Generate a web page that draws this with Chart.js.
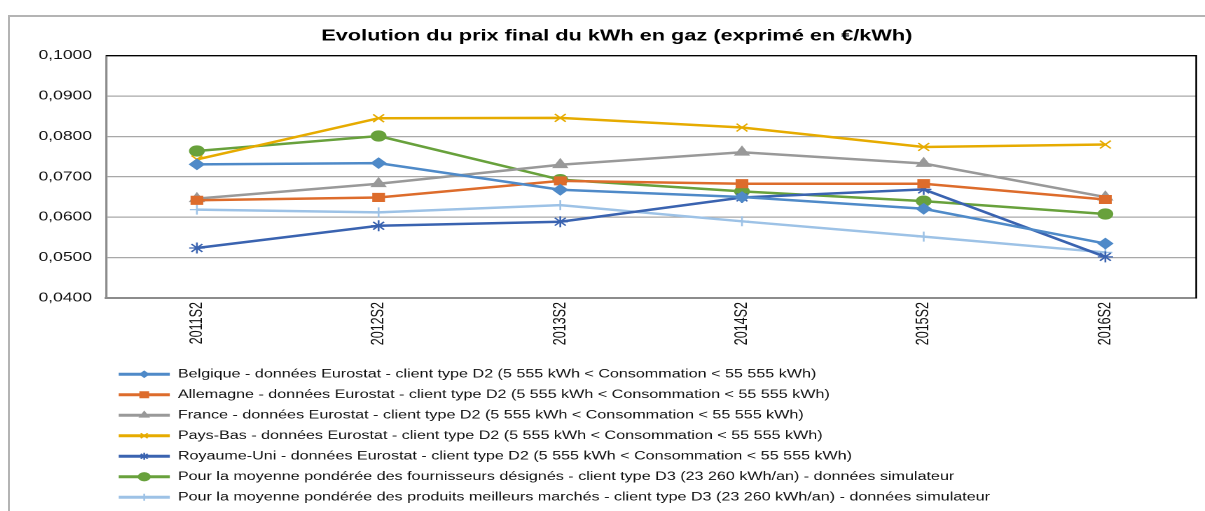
<!DOCTYPE html>
<html>
<head>
<meta charset="utf-8">
<script src="https://cdn.jsdelivr.net/npm/chart.js@4/dist/chart.umd.min.js"></script>
<style>
  html, body { margin: 0; padding: 0; background: #fff; overflow: hidden; }
  .frame { position: absolute; left: 8px; top: 15px; width: 1197px; height: 510px;
           border-top: 2px solid #b4b4b4; border-left: 2px solid #b4b4b4; }
  /* the source picture is stretched horizontally: draw narrow, then widen */
  .box { position: absolute; left: 0; top: 0; width: 853.6px; height: 496px;
         transform: scaleX(1.4); transform-origin: 0 0; }
</style>
</head>
<body>
<div class="frame"><div class="box"><canvas id="chart"></canvas></div></div>
<script>
const semesters = ['2011S2', '2012S2', '2013S2', '2014S2', '2015S2', '2016S2'];

const belgique    = [0.0731, 0.0734, 0.0668, 0.0650, 0.0621, 0.0535];
const allemagne   = [0.0642, 0.0649, 0.0690, 0.0683, 0.0683, 0.0644];
const france      = [0.0646, 0.0683, 0.0730, 0.0761, 0.0733, 0.0650];
const paysBas     = [0.0743, 0.0845, 0.0846, 0.0822, 0.0774, 0.0780];
const royaumeUni  = [0.0524, 0.0579, 0.0589, 0.0649, 0.0669, 0.0502];
const designes    = [0.0764, 0.0801, 0.0693, 0.0664, 0.0640, 0.0608];
const meilleurs   = [0.0619, 0.0612, 0.0630, 0.0590, 0.0552, 0.0513];

const eurostat = ' - données Eurostat - client type D2 (5 555 kWh < Consommation < 55 555 kWh)';
const simulateur = ' - client type D3 (23 260 kWh/an) - données simulateur';

function serie(label, data, color, style, radius, legendRadius) {
    return {
        label: label,
        data: data,
        borderColor: color,
        backgroundColor: color,
        borderWidth: 2.5,
        pointStyle: style,
        pointRadius: radius,
        pointHoverRadius: radius,
        pointBorderWidth: 1.3,
        legendRadius: legendRadius,
        tension: 0
    };
}

const datasets = [
    serie('Belgique' + eurostat, belgique, '#4f8ac8', 'rectRot', 5, 3),
    serie('Allemagne' + eurostat, allemagne, '#dd6c2c', 'rect', 5.5, 4),
    serie('France' + eurostat, france, '#999999', 'triangle', 5.5, 3.5),
    serie('Pays-Bas' + eurostat, paysBas, '#e6ab00', 'crossRot', 5.5, 3.5),
    serie('Royaume-Uni' + eurostat, royaumeUni, '#3a63b0', 'star', 5.5, 3.5),
    serie('Pour la moyenne pondérée des fournisseurs désignés' + simulateur, designes, '#68a13c', 'circle', 5, 4),
    serie('Pour la moyenne pondérée des produits meilleurs marchés' + simulateur, meilleurs, '#9dc2e6', 'cross', 5, 3.5)
];

// black top/right border of the plot area + markers in the legend lines
const extras = {
    id: 'extras',
    afterDraw(chart) {
        const ctx = chart.ctx;
        const a = chart.chartArea;
        ctx.save();
        ctx.strokeStyle = '#000';
        ctx.lineWidth = 1.3;
        ctx.beginPath();
        ctx.moveTo(a.left, a.top);
        ctx.lineTo(a.right, a.top);
        ctx.lineTo(a.right, a.bottom);
        ctx.stroke();
        const lg = chart.legend;
        const boxW = lg.options.labels.boxWidth;
        lg.legendHitBoxes.forEach((hb, i) => {
            const ds = chart.data.datasets[i];
            ctx.strokeStyle = ds.borderColor;
            ctx.fillStyle = ds.backgroundColor;
            Chart.helpers.drawPoint(ctx, {
                pointStyle: ds.pointStyle,
                radius: ds.legendRadius,
                rotation: 0,
                borderWidth: 1.2
            }, hb.left + boxW / 2, hb.top + hb.height / 2);
        });
        ctx.restore();
    }
};

new Chart(document.getElementById('chart'), {
    type: 'line',
    data: { labels: semesters, datasets: datasets },
    plugins: [extras],
    options: {
        responsive: true,
        maintainAspectRatio: false,
        animation: false,
        devicePixelRatio: 2,
        layout: { padding: { left: 18.5, right: 5.7, top: 0, bottom: 0 } },
        plugins: {
            title: {
                display: true,
                text: 'Evolution du prix final du kWh en gaz (exprimé en €/kWh)',
                color: '#000',
                font: { family: 'Liberation Sans, Arial, sans-serif', size: 15.5, weight: 'bold' },
                padding: { top: 10, bottom: 10 }
            },
            legend: {
                position: 'bottom',
                align: 'start',
                fullSize: false,
                labels: {
                    color: '#111',
                    font: { family: 'Liberation Sans, Arial, sans-serif', size: 11.5 },
                    boxWidth: 36.5,
                    boxHeight: 3,
                    padding: 9,
                    generateLabels(chart) {
                        const items = Chart.defaults.plugins.legend.labels.generateLabels(chart);
                        items.forEach(it => { it.lineWidth = 0; });
                        return items;
                    }
                }
            },
            tooltip: { enabled: false }
        },
        scales: {
            x: {
                offset: true,
                grid: { display: false, drawTicks: false },
                border: { color: '#8c8c8c', width: 2 },
                ticks: {
                    color: '#111',
                    minRotation: 90,
                    maxRotation: 90,
                    padding: 4,
                    font: { family: 'Liberation Sans, Arial, sans-serif', size: 12.5 }
                },
                afterFit(scale) { scale.height = 61.4; }
            },
            y: {
                min: 0.04,
                max: 0.1,
                grid: {
                    color: ctx => ctx.tick && ctx.tick.value >= 0.1 ? '#000' : '#a8a8a8',
                    lineWidth: 1.2,
                    drawTicks: false
                },
                border: { color: '#8c8c8c', width: 1.6 },
                ticks: {
                    stepSize: 0.01,
                    color: '#111',
                    padding: 10,
                    font: { family: 'Liberation Sans, Arial, sans-serif', size: 12.5 },
                    callback: v => v.toFixed(4).replace('.', ',')
                },
                afterFit(scale) { scale.width = 50.07; }
            }
        }
    }
});
</script>
</body>
</html>
